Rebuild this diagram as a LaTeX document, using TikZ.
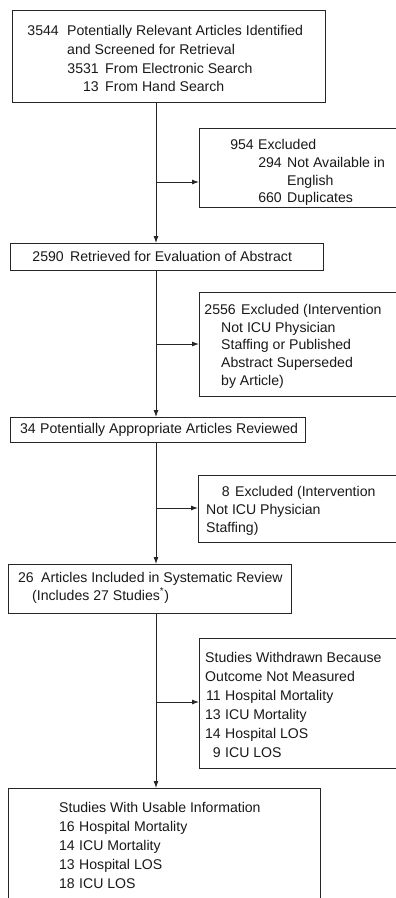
\documentclass[tikz,border=0pt]{standalone}
\usepackage{fontspec}
\setmainfont{Liberation Sans}
\usetikzlibrary{arrows.meta}

% one text line: name, x, baseline y, text
\newcommand\tline[4]{\node[txt] (#1) at (#2,#3) {#4};}
% a right-aligned number: name, right x, baseline y, text
\newcommand\tnum[4]{\node[num] (#1) at (#2,#3) {#4};}

\begin{document}
\begin{tikzpicture}[x=1pt,y=-1pt,
  box/.style={draw=black!85, line width=1pt, rectangle, anchor=north west, inner sep=0pt},
  txt/.style={anchor=base west, inner sep=0pt, font=\fontsize{14.1}{17}\selectfont, text=black!90},
  num/.style={txt, anchor=base east},
  arr/.style={draw=black!85, line width=0.9pt, -{Latex[length=7pt,width=5pt]}}]

\useasboundingbox (0,0) rectangle (396,898);
\clip (0,0) rectangle (396,898);
\fill[white] (0,0) rectangle (396,898);

% main column of boxes
\node[box, minimum width=313pt, minimum height=92pt] (b1) at (12,10) {};
\node[box, minimum width=313pt, minimum height=27pt] (b2) at (10,243) {};
\node[box, minimum width=295pt, minimum height=25pt] (b3) at (10,417) {};
\node[box, minimum width=283pt, minimum height=49pt] (b4) at (8,564) {};
\node[box, minimum width=312pt, minimum height=130pt] (b5) at (8,788) {};

% side boxes (running past the right edge)
\node[box, minimum width=210pt, minimum height=79pt] (e1) at (199,128) {};
\node[box, minimum width=210pt, minimum height=104pt] (e2) at (199,292) {};
\node[box, minimum width=210pt, minimum height=67pt] (e3) at (198,475) {};
\node[box, minimum width=210pt, minimum height=130pt] (e4) at (199,638) {};

% box 1
\tnum{t1a}{59}{35}{3544}
\tline{t1b}{67}{35}{Potentially Relevant Articles Identified}
\tline{t1c}{67}{54}{and Screened for Retrieval}
\tnum{t1d}{99}{73}{3531}
\tline{t1e}{105}{73}{From Electronic Search}
\tnum{t1f}{99}{91}{13}
\tline{t1g}{105}{91}{From Hand Search}

% side box 1
\tnum{s1a}{254}{149}{954}
\tline{s1b}{258}{149}{Excluded}
\tnum{s1c}{282}{167}{294}
\tline{s1d}{287}{167}{Not Available in}
\tline{s1e}{287}{185}{English}
\tnum{s1f}{282}{202}{660}
\tline{s1g}{287}{202}{Duplicates}

% box 2
\tnum{t2a}{64}{261}{2590}
\tline{t2b}{70}{261}{Retrieved for Evaluation of Abstract}

% side box 2
\tnum{s2a}{236}{314}{2556}
\tline{s2b}{241}{314}{Excluded (Intervention}
\tline{s2c}{221}{332}{Not ICU Physician}
\tline{s2d}{221}{349}{Staffing or Published}
\tline{s2e}{221}{367}{Abstract Superseded}
\tline{s2f}{221}{385}{by Article)}

% box 3
\tnum{t3a}{36}{433}{34}
\tline{t3b}{40}{433}{Potentially Appropriate Articles Reviewed}

% side box 3
\tnum{s3a}{230}{496}{8}
\tline{s3b}{235}{496}{Excluded (Intervention}
\tline{s3c}{206}{514}{Not ICU Physician}
\tline{s3d}{206}{532}{Staffing)}

% box 4
\tnum{t4a}{34}{582}{26}
\tline{t4b}{41}{582}{Articles Included in Systematic Review}
\tline{t4c}{32}{600}{(Includes 27 Studies\textsuperscript{*})}

% side box 4
\tline{s4a}{205}{662}{Studies Withdrawn Because}
\tline{s4b}{205}{681}{Outcome Not Measured}
\tnum{s4c}{221}{700}{11}
\tline{s4d}{225}{700}{Hospital Mortality}
\tnum{s4e}{221}{719}{13}
\tline{s4f}{225}{719}{ICU Mortality}
\tnum{s4g}{221}{738}{14}
\tline{s4h}{225}{738}{Hospital LOS}
\tnum{s4i}{221}{757}{9}
\tline{s4j}{225}{757}{ICU LOS}

% box 5
\tline{t5a}{59}{812}{Studies With Usable Information}
\tnum{t5b}{75}{831}{16}
\tline{t5c}{79}{831}{Hospital Mortality}
\tnum{t5d}{75}{850}{14}
\tline{t5e}{79}{850}{ICU Mortality}
\tnum{t5f}{75}{869}{13}
\tline{t5g}{79}{869}{Hospital LOS}
\tnum{t5h}{75}{888}{18}
\tline{t5i}{79}{888}{ICU LOS}

% spine and branch points
\coordinate (sp) at (156,0);
\coordinate (j1) at (156,182);
\coordinate (j2) at (156,344);
\coordinate (j3) at (156,508);
\coordinate (j4) at (156,702);

\draw[arr] (b1.south -| sp) -- (b2.north -| sp);
\draw[arr] (b2.south -| sp) -- (b3.north -| sp);
\draw[arr] (b3.south -| sp) -- (b4.north -| sp);
\draw[arr] (b4.south -| sp) -- (b5.north -| sp);

\draw[arr] (j1) -- (j1 -| e1.west);
\draw[arr] (j2) -- (j2 -| e2.west);
\draw[arr] (j3) -- (j3 -| e3.west);
\draw[arr] (j4) -- (j4 -| e4.west);
\end{tikzpicture}
\end{document}
